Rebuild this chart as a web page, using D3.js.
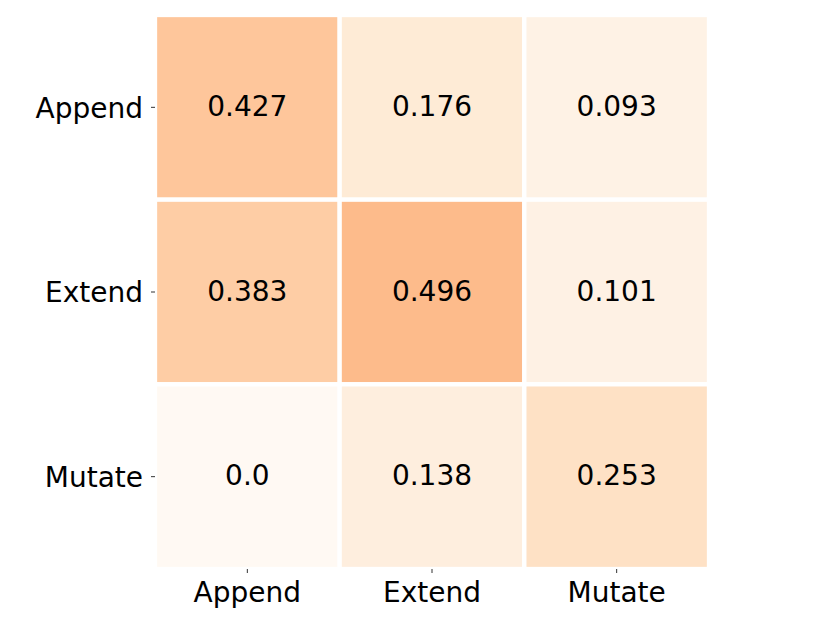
<!DOCTYPE html>
<html>
    <head>
        <script src="https://d3js.org/d3.v7.js"></script>
        <style>
            body { margin: 0; background: #fff; }
            text { font-family: 'DejaVu Sans', sans-serif; }
        </style>
    </head>
    <body>
        <div class="graph">
            <script>
                const w = 830
                const h = 623

                const rowLabels = ['Append', 'Extend', 'Mutate']
                const colLabels = ['Append', 'Extend', 'Mutate']
                const rowAppend = [0.427, 0.176, 0.093]
                const rowExtend = [0.383, 0.496, 0.101]
                const rowMutate = [0.0, 0.138, 0.253]
                const valueLabels = [['0.427', '0.176', '0.093'], ['0.383', '0.496', '0.101'], ['0.0', '0.138', '0.253']]

                const rows = [rowAppend, rowExtend, rowMutate]
                const cells = []
                rows.forEach((r, i) => r.forEach((v, j) => cells.push({row: rowLabels[i], col: colLabels[j], value: v, label: valueLabels[i][j]})))

                const svg = d3.select('.graph')
                        .append('svg')
                        .attr('width', w)
                        .attr('height', h)

                const x = d3.scaleBand().domain(colLabels).range([155, 709])
                const y = d3.scaleBand().domain(rowLabels).range([15, 569])

                // oranges at 60% over white
                const colour = v => {
                    const c = d3.rgb(d3.interpolateOranges(v))
                    const a = 0.6
                    return d3.rgb(255 * (1 - a) + c.r * a, 255 * (1 - a) + c.g * a, 255 * (1 - a) + c.b * a)
                }

                svg.append('g')
                    .selectAll('rect')
                    .data(cells)
                    .enter()
                    .append('rect')
                    .attr('x', d => x(d.col))
                    .attr('y', d => y(d.row))
                    .attr('width', x.bandwidth())
                    .attr('height', y.bandwidth())
                    .style('fill', d => colour(d.value))
                    .style('stroke', '#fff')
                    .style('stroke-width', 4.3)

                svg.append('g')
                    .selectAll('text')
                    .data(cells)
                    .enter()
                    .append('text')
                    .attr('x', d => x(d.col) + x.bandwidth() / 2)
                    .attr('y', d => y(d.row) + y.bandwidth() / 2)
                    .attr('text-anchor', 'middle')
                    .attr('dy', '0.31em')
                    .style('font-size', '28px')
                    .style('fill', '#000')
                    .text(d => d.label)

                const xAxis = svg.append('g')
                    .attr('transform', 'translate(0,569)')
                    .call(d3.axisBottom(x).tickSize(4).tickPadding(9))
                const yAxis = svg.append('g')
                    .attr('transform', 'translate(155,0)')
                    .call(d3.axisLeft(y).tickSize(4).tickPadding(8))

                ;[xAxis, yAxis].forEach(a => {
                    a.select('.domain').remove()
                    a.selectAll('.tick line').attr('stroke', '#333').attr('stroke-width', 1)
                    a.selectAll('.tick text').style('font-size', '28px').style('font-family', 'DejaVu Sans').attr('fill', '#000')
                })
                yAxis.selectAll('.tick text').attr('dy', '0.37em')
            </script>
        </div>
    </body>
</html>
